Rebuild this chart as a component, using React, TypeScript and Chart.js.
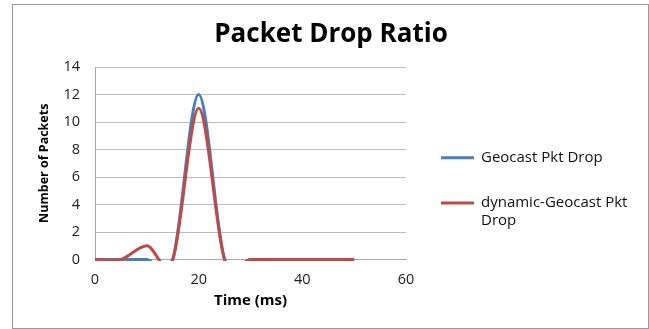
import React, { useEffect, useRef } from 'react';
import { Chart, registerables } from 'chart.js';

Chart.register(...registerables);

const chartTitle = 'Packet Drop Ratio';
const xAxisTitle = 'Time (ms)';
const yAxisTitle = 'Number of Packets';
const timeMs = [0, 5, 10, 15, 20, 25, 30, 35, 40, 45, 50];
const geocastDrop = [0, 0, 0, 0, 12, 0, 0, 0, 0, 0, 0];
const dynamicGeocastDrop = [0, 0, 1, 0, 11, 0, 0, 0, 0, 0, 0];
const seriesLabels = ['Geocast Pkt Drop', 'dynamic-Geocast Pkt Drop'];
const seriesColors = ['#4A7EBB', '#BE4B48'];
const xRange = [0, 60];
const xStep = 20;
const yRange = [0, 14];
const yStep = 2;

const FONT = '"Open Sans", "DejaVu Sans", sans-serif';

// Excel-style smoothing (Catmull-Rom control points computed from the library's pixels)
const excelSmooth = {
  id: 'excelSmooth',
  beforeDatasetsDraw(chart: any) {
    chart.data.datasets.forEach((_ds: any, i: number) => {
      const meta = chart.getDatasetMeta(i);
      if (!meta.visible || !meta.dataset) return;
      meta.dataset.updateControlPoints(chart.chartArea, meta.iScale.axis);
      const pts = meta.data;
      for (let k = 0; k < pts.length; k++) {
        const p = pts[k];
        const prev = pts[Math.max(0, k - 1)];
        const next = pts[Math.min(pts.length - 1, k + 1)];
        const dx = (next.x - prev.x) / 6;
        const dy = (next.y - prev.y) / 6;
        p.cp1x = p.x - dx;
        p.cp1y = p.y - dy;
        p.cp2x = p.x + dx;
        p.cp2y = p.y + dy;
      }
    });
  },
};

const decorations = {
  id: 'decorations',
  afterDraw(chart: any) {
    const ctx = chart.ctx;
    ctx.save();
    // outer chart border
    ctx.strokeStyle = '#9a9a9a';
    ctx.lineWidth = 1;
    ctx.strokeRect(12.5, 4.5, 636, 324);
    // title
    ctx.fillStyle = '#000';
    ctx.font = `bold 26px ${FONT}`;
    ctx.textAlign = 'center';
    ctx.textBaseline = 'alphabetic';
    ctx.fillText(chartTitle, 331, 41.5);
    // legend
    ctx.font = `15px ${FONT}`;
    ctx.textAlign = 'left';
    ctx.textBaseline = 'middle';
    const lineH = 17.7;
    const maxW = 160;
    let y = 157.7;
    chart.data.datasets.forEach((ds: any) => {
      const words = String(ds.label).split(' ');
      const lines: string[] = [];
      let cur = '';
      words.forEach((w) => {
        const t = cur ? cur + ' ' + w : w;
        if (ctx.measureText(t).width > maxW && cur) {
          lines.push(cur);
          cur = w;
        } else cur = t;
      });
      if (cur) lines.push(cur);
      ctx.strokeStyle = ds.borderColor;
      ctx.lineWidth = 3;
      ctx.beginPath();
      ctx.moveTo(441, y);
      ctx.lineTo(474, y);
      ctx.stroke();
      ctx.fillStyle = '#111';
      lines.forEach((ln, j) => ctx.fillText(ln, 481, y + j * lineH));
      y += lines.length * lineH + 27.6;
    });
    ctx.restore();
  },
};

export default function App() {
  const ref = useRef<HTMLCanvasElement | null>(null);
  useEffect(() => {
    if (!ref.current) return;
    const series = [geocastDrop, dynamicGeocastDrop];
    const chart = new Chart(ref.current, {
      type: 'line',
      data: {
        datasets: series.map((vals, i) => ({
          label: seriesLabels[i],
          data: timeMs.map((t, k) => ({ x: t, y: vals[k] })),
          borderColor: seriesColors[i],
          backgroundColor: seriesColors[i],
          borderWidth: 3,
          pointRadius: 0,
          tension: 0.4,
          fill: false,
          order: i === 0 ? 1 : 0,
          clip: { left: 2, top: 2, right: 2, bottom: 1.5 },
        })),
      },
      options: {
        animation: false,
        responsive: false,
        maintainAspectRatio: false,
        layout: { padding: { left: 12, right: 243, top: 67, bottom: 2 } },
        plugins: {
          legend: { display: false },
          title: { display: false },
          tooltip: { enabled: false },
        },
        scales: {
          x: {
            type: 'linear',
            min: xRange[0],
            max: xRange[1],
            ticks: {
              stepSize: xStep,
              padding: 12,
              color: '#222',
              font: { family: FONT, size: 14.5 },
              maxRotation: 0,
            },
            grid: { display: false, drawTicks: false },
            border: { display: true, color: '#a6a6a6', width: 1 },
            title: {
              display: true,
              text: xAxisTitle,
              color: '#000',
              font: { family: FONT, size: 15, weight: 'bold' },
              padding: { top: 0, bottom: 17 },
            },
            afterFit: (s: any) => {
              s.height = 67.5;
            },
          },
          y: {
            min: yRange[0],
            max: yRange[1],
            ticks: {
              stepSize: yStep,
              padding: 15,
              color: '#222',
              font: { family: FONT, size: 14.5 },
            },
            grid: { color: '#bdbdbd', drawTicks: false, lineWidth: 1 },
            border: { display: true, color: '#a6a6a6', width: 1 },
            title: {
              display: true,
              text: yAxisTitle,
              color: '#000',
              font: { family: FONT, size: 12.5, weight: 'bold' },
              padding: { top: 25, bottom: 0 },
            },
            afterFit: (s: any) => {
              s.width = 83;
            },
          },
        },
      },
      plugins: [excelSmooth, decorations],
    });
    return () => chart.destroy();
  }, []);
  return (
    <div style={{ position: 'fixed', left: 0, top: 0, width: 649, height: 329, background: '#fff' }}>
      <canvas ref={ref} width={649} height={329} />
    </div>
  );
}
